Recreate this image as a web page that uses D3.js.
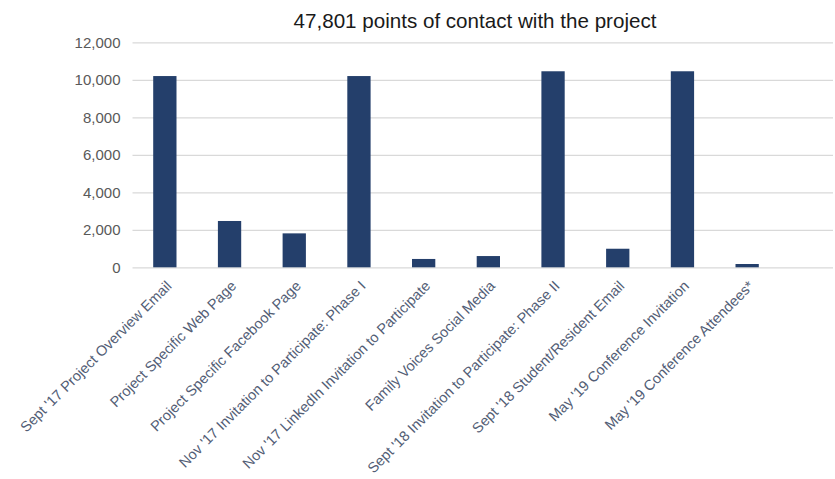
<!DOCTYPE html>
<html>
<head>
<meta charset="utf-8">
<script src="https://cdn.jsdelivr.net/npm/d3@7"></script>
<style>
  html, body { margin: 0; padding: 0; background: #ffffff; }
  svg { display: block; font-family: "Liberation Sans", Arial, sans-serif; }
</style>
</head>
<body>
<svg id="chart" width="835" height="479"></svg>
<script>
// Contact channels and their counts
const categories = [
  "Sept '17 Project Overview Email",
  "Project Specific Web Page",
  "Project Specific Facebook Page",
  "Nov '17 Invitation to Participate: Phase I",
  "Nov '17 LinkedIn Invitation to Participate",
  "Family Voices Social Media",
  "Sept '18 Invitation to Participate: Phase II",
  "Sept '18 Student/Resident Email",
  "May '19 Conference Invitation",
  "May '19 Conference Attendees*"
];
const contacts = [10200, 2470, 1810, 10200, 445, 600, 10455, 990, 10455, 176];
const yTicks = [0, 2000, 4000, 6000, 8000, 10000, 12000];
const titleText = "47,801 points of contact with the project";

const svg = d3.select("#chart");

const plot = { left: 132.5, right: 779.5, top: 42.3, bottom: 267.3, gridRight: 833 };

const x = d3.scaleBand()
  .domain(categories)
  .range([plot.left, plot.right])
  .paddingInner(0.64)
  .paddingOuter(0.32);

const y = d3.scaleLinear()
  .domain([0, 12000])
  .range([plot.bottom, plot.top]);

// Title
svg.append("text")
  .attr("x", 475)
  .attr("y", 28)
  .attr("text-anchor", "middle")
  .attr("font-size", 20.6)
  .attr("fill", "#1a1a1a")
  .text(titleText);

// Horizontal gridlines with value labels
const yAxis = d3.axisLeft(y)
  .tickValues(yTicks)
  .tickFormat(d3.format(","))
  .tickSize(-(plot.gridRight - plot.left))
  .tickPadding(12);

const yG = svg.append("g")
  .attr("transform", `translate(${plot.left},0)`)
  .call(yAxis);
yG.select(".domain").remove();
yG.selectAll(".tick line")
  .attr("stroke", "#d9d9d9")
  .attr("stroke-width", 1.2);
yG.selectAll(".tick text")
  .attr("font-size", 15)
  .attr("fill", "#595959");

// Bars
svg.append("g")
  .selectAll("rect")
  .data(categories)
  .join("rect")
  .attr("x", d => x(d))
  .attr("width", x.bandwidth())
  .attr("y", (d, i) => y(contacts[i]))
  .attr("height", (d, i) => y(0) - y(contacts[i]))
  .attr("fill", "#243f6b");

// Rotated category labels
const xAxis = d3.axisBottom(x).tickSize(0).tickPadding(0);
const xG = svg.append("g")
  .attr("transform", `translate(0,${plot.bottom})`)
  .call(xAxis);
xG.select(".domain").remove();
xG.selectAll(".tick text")
  .attr("font-size", 14.5)
  .attr("fill", "#525d75")
  .attr("text-anchor", "end")
  .attr("dy", "0.35em")
  .attr("transform", "translate(4,16) rotate(-45)");
</script>
</body>
</html>
